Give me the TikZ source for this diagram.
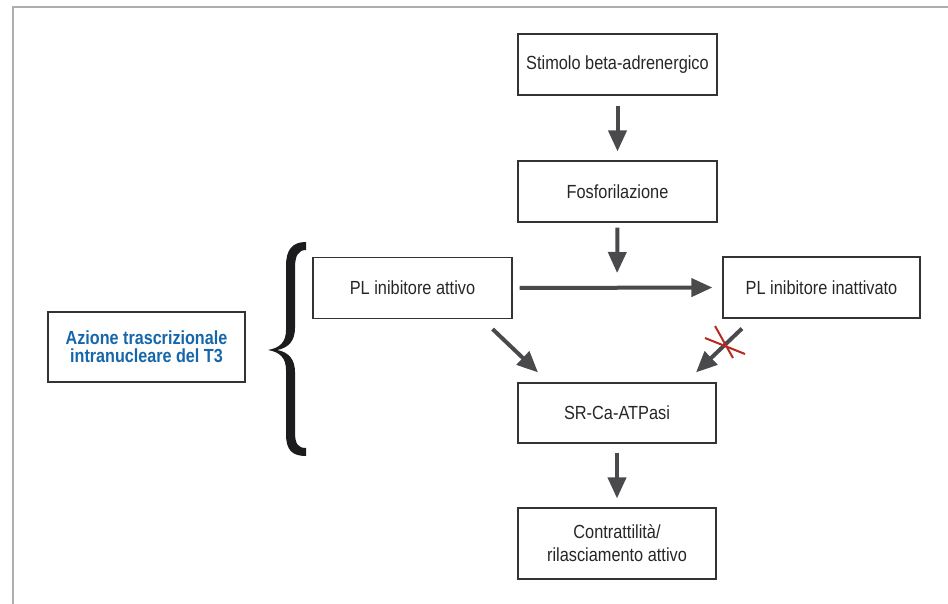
\documentclass[tikz,border=0pt]{standalone}
\usepackage{fontspec}
\setmainfont[FakeStretch=0.86]{Liberation Sans}
\newfontfamily\azfont[FakeStretch=0.85]{Liberation Sans}
\usetikzlibrary{arrows.meta}
\definecolor{arr}{HTML}{4A4A4D}
\definecolor{boxline}{HTML}{333333}
\definecolor{framegray}{HTML}{AEAEAE}
\definecolor{azblue}{RGB}{22,102,170}
\definecolor{xred}{HTML}{B8281E}
\definecolor{bracecol}{HTML}{1C1C1E}
\tikzset{
  box/.style={draw=boxline, line width=1.2pt, inner sep=0pt, align=center,
    minimum width=199pt, minimum height=61pt, text=black!85,
    font=\fontsize{19}{23}\selectfont},
  flow/.style={draw=arr, line width=4pt,
    -{Triangle[length=21pt,width=18pt]}},
  crossout/.style={draw=xred, line width=2pt}
}
\begin{document}
\begin{tikzpicture}[x=1pt,y=-1pt]
\useasboundingbox (0,0) rectangle (948,604);
\draw[framegray, line width=2pt] (12.5,604) -- (12.5,7) -- (948,7);

\node[box] (stim) at (617.5,64.5) {Stimolo beta-adrenergico};
\node[box] (fosf) at (617.5,191.5) {Fosforilazione};
\node[box] (platt) at (412.5,288) {PL inibitore attivo};
\node[box, minimum width=197pt] (plin) at (821.5,287.5) {PL inibitore inattivato};
\node[box, minimum width=197pt, minimum height=70pt, line width=1.5pt,
  font=\fontsize{19}{18}\selectfont\azfont\bfseries, text=azblue] (az) at (146.5,347)
  {Azione trascrizionale\\intranucleare del T3};
\node[box, minimum width=198pt, minimum height=60pt] (sr) at (617,413) {SR-Ca-ATPasi};
\node[box, minimum width=198pt, minimum height=71pt] (contr) at (617,543.5)
  {Contrattilità/\\rilasciamento attivo};

\coordinate (mid) at (617,288);

\draw[flow, shorten <=10pt, shorten >=9pt] (stim.south) -- (fosf.north);
\draw[flow, shorten <=5pt, shorten >=15pt] (fosf.south) -- (mid);
\draw[flow, shorten <=7pt, shorten >=10pt] (platt.east) -- (plin.west);
\draw[flow] ([shift={(-20,10)}]platt.south east) -- ([shift={(-79,-10)}]sr.north);
\draw[flow] ([shift={(19.5,10)}]plin.south west) -- ([shift={(79,-10)}]sr.north);
\draw[flow, shorten <=9pt, shorten >=9pt] (sr.south) -- (contr.north);

% red cross
\coordinate (xc) at (725,345);
\draw[crossout] ([shift={(-20,-7)}]xc) -- ([shift={(20,9)}]xc);
\draw[crossout] ([shift={(-10,-19)}]xc) -- ([shift={(8,13)}]xc);

% brace
\fill[bracecol] (306,242) .. controls (292,242) and (286,250) .. (286,266) -- (286,330)
  .. controls (286,342) and (280,348) .. (268,350)
  .. controls (280,352) and (286,358) .. (286,370) -- (286,434)
  .. controls (286,450) and (292,456) .. (306,456) -- (306,448)
  .. controls (298,448) and (295,444) .. (295,432) -- (295,372)
  .. controls (295,360) and (289,352) .. (277,350)
  .. controls (289,348) and (295,340) .. (295,328) -- (295,268)
  .. controls (295,256) and (298,250) .. (306,250) -- cycle;
\end{tikzpicture}
\end{document}
